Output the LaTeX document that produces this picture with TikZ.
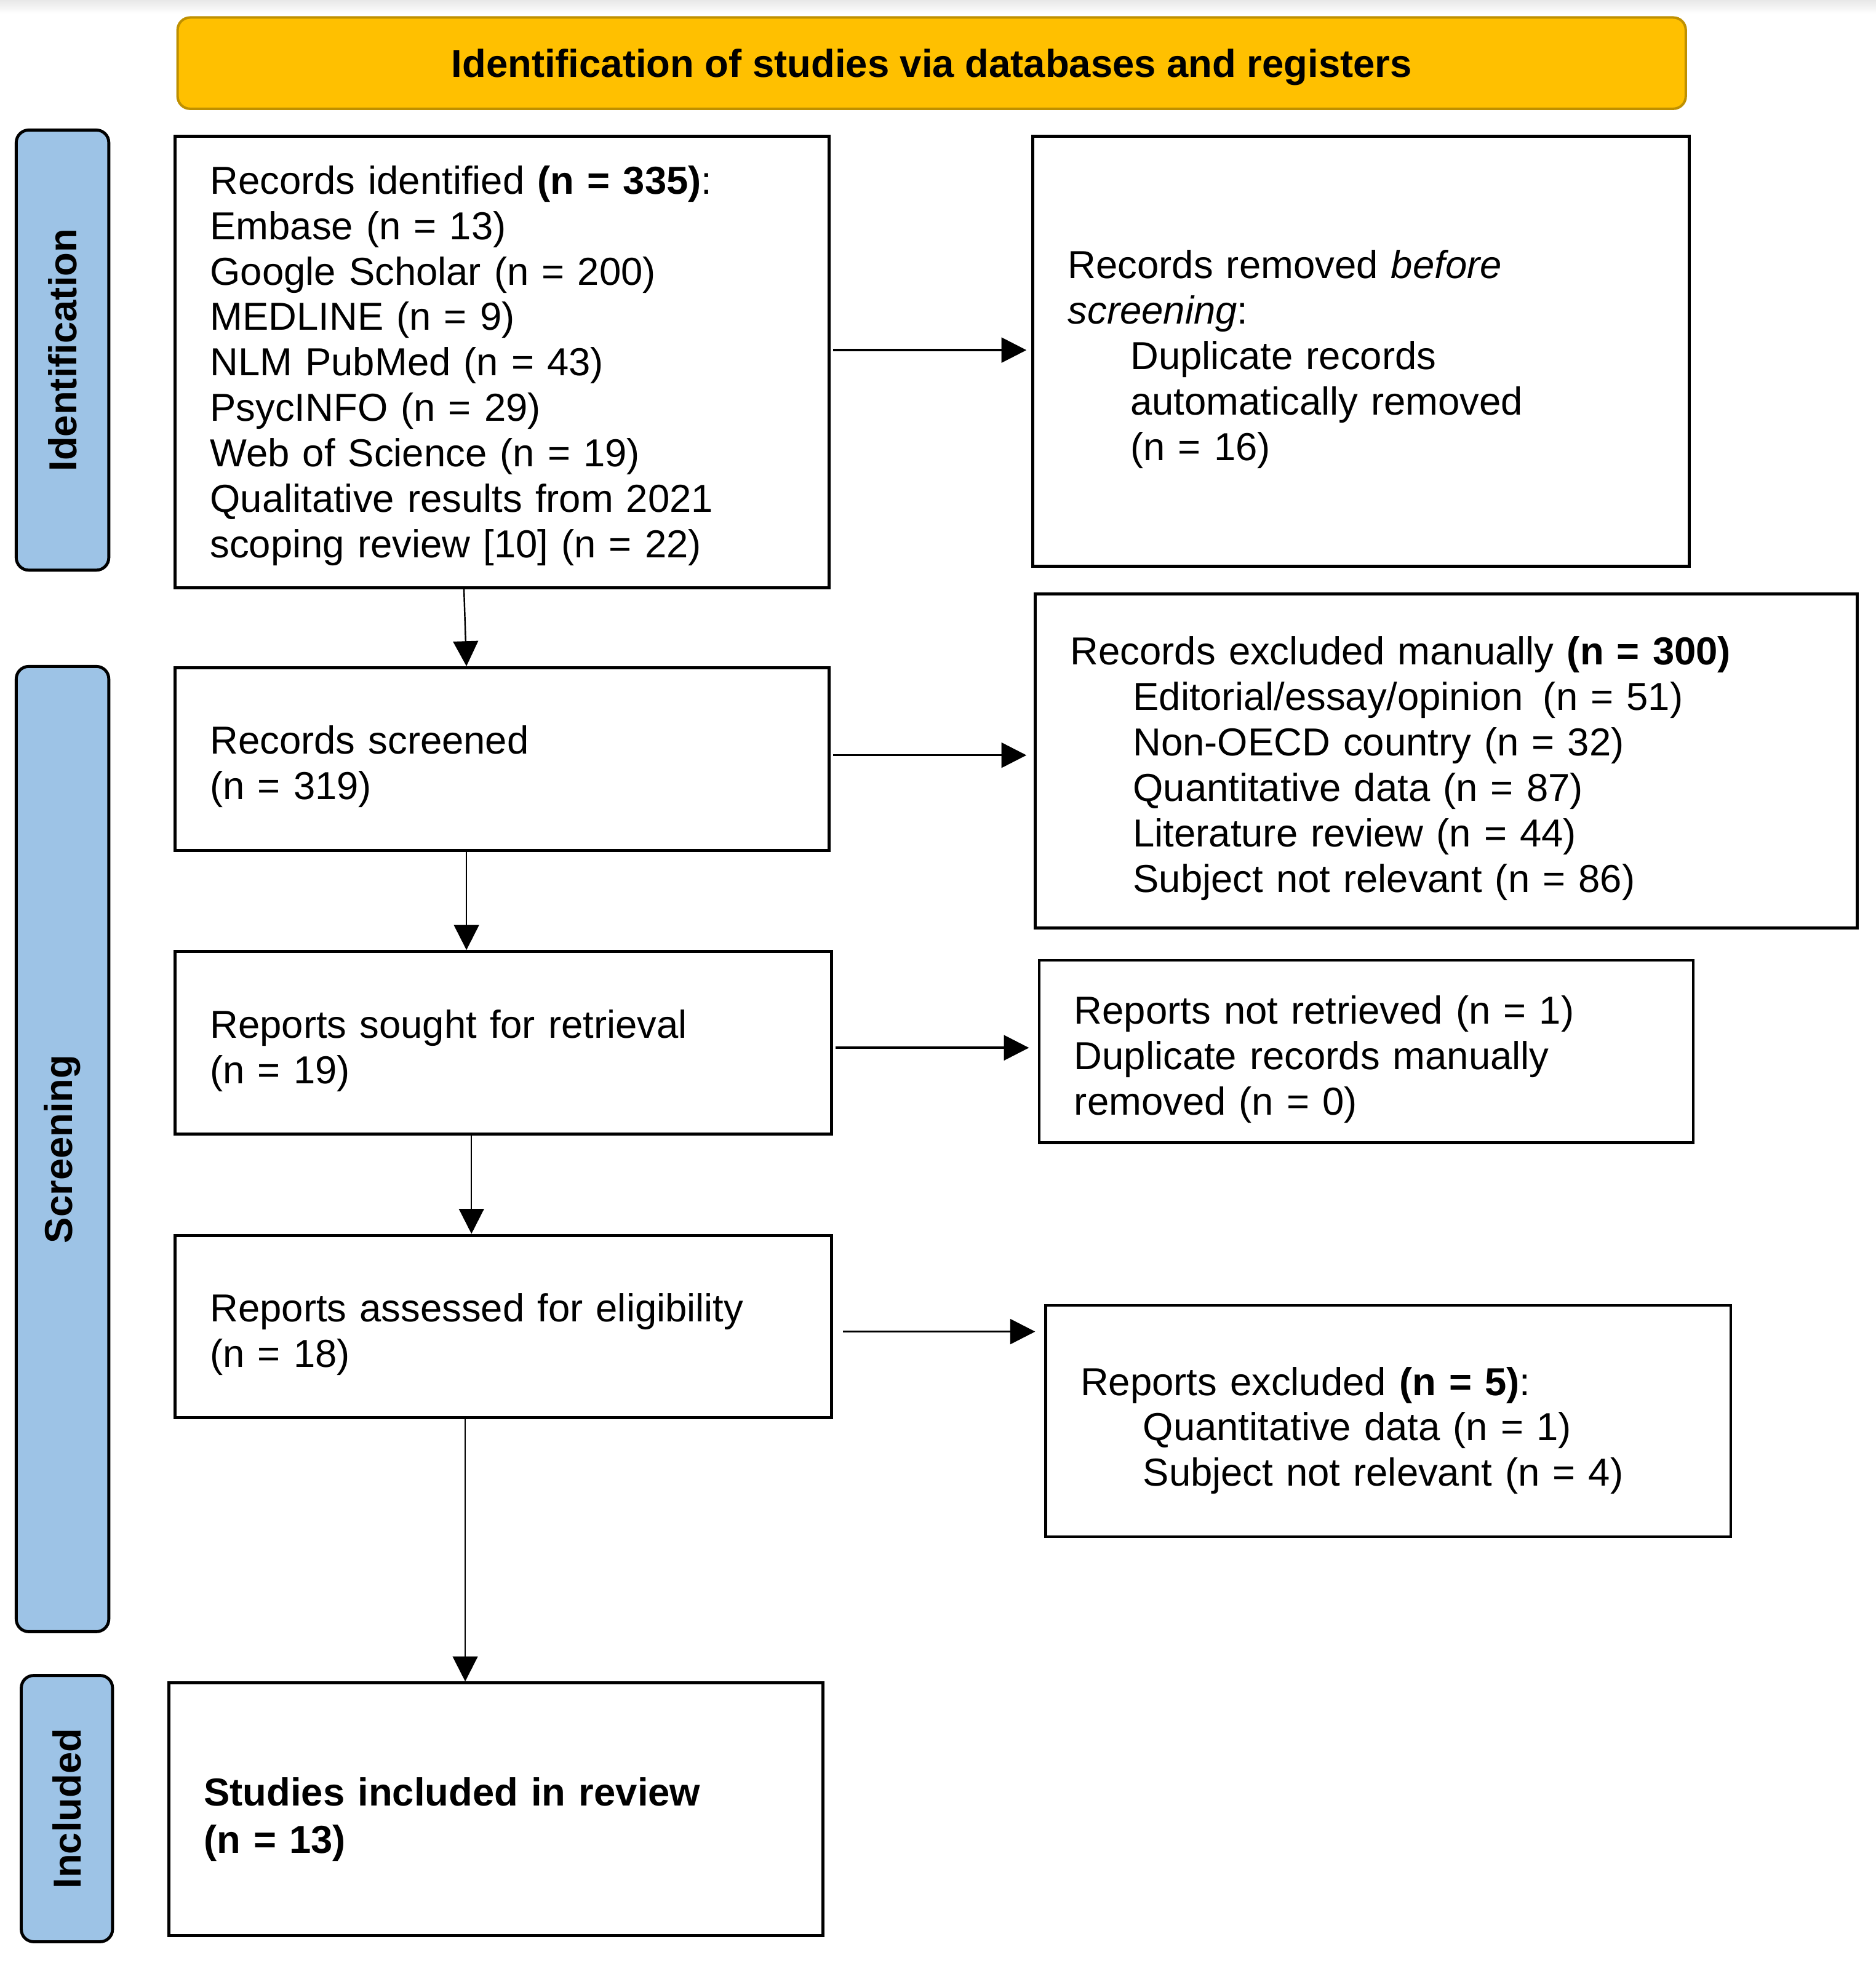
\documentclass[tikz,border=0pt]{standalone}
\usepackage{fontspec}
\setmainfont{Liberation Sans}
\usetikzlibrary{arrows.meta}
\definecolor{hdrfill}{HTML}{FFC000}
\definecolor{hdrline}{HTML}{BF9000}
\definecolor{sidefill}{HTML}{9DC3E6}
\newcommand\fsz{\fontsize{15.6pt}{18.2pt}\selectfont}
\tikzset{
  box/.style={draw, line width=1.2pt, inner xsep=14pt, inner ysep=0pt, align=left, font=\fsz,
    execute at begin node={\rule{0pt}{17.5pt}}},
  hdr/.style={draw=hdrline, fill=hdrfill, line width=1pt, rounded corners=5pt, font=\fsz\bfseries, align=center, inner sep=0pt, text height=14.5pt, text depth=3.3pt},
  side/.style={draw, fill=sidefill, line width=1.2pt, rounded corners=5pt, rotate=90, font=\fsz\bfseries, inner sep=0pt},
  varr/.style={line width=0.6pt, -{Triangle[length=10pt,width=10pt]}},
  harr/.style={line width=0.9pt, -{Triangle[length=10pt,width=10pt]}},
}
\begin{document}
\begin{tikzpicture}[x=0.5pt,y=-0.5pt]
\useasboundingbox (0,0) rectangle (1500,1570);
\shade[top color=gray!18, bottom color=white] (0,0) rectangle (1500,11);

\node[hdr, minimum width=603pt, minimum height=36.5pt] (hdr) at (745,50.5) {Identification of studies via databases and registers};

\node[side, minimum width=176pt, minimum height=37pt] (s1) at (50,280) {Identification};
\node[side, minimum width=386pt, minimum height=37pt] (s2) at (50,919) {Screening};
\node[side, minimum width=106.5pt, minimum height=36.5pt] (s3) at (53.5,1446.5) {Included};

\node[box, minimum width=261.5pt, minimum height=180.5pt, text width=233.5pt] (b1) at (401.5,289.5)
 {Records identified \textbf{(n = 335)}:\\
  Embase (n = 13)\\
  Google Scholar (n = 200)\\
  MEDLINE (n = 9)\\
  NLM PubMed (n = 43)\\
  PsycINFO (n = 29)\\
  Web of Science (n = 19)\\
  Qualitative results from 2021\\
  scoping review [10] (n = 22)\rule[-6.4pt]{0pt}{1pt}};

\node[box, minimum width=262.5pt, minimum height=172pt, text width=234.5pt] (b2) at (1088.5,281)
 {Records removed \textit{before}\\
  \textit{screening}:\\
  \hspace*{25pt}Duplicate records\\
  \hspace*{25pt}automatically removed\\
  \hspace*{25pt}(n = 16)};

\node[box, minimum width=261.5pt, minimum height=73pt, text width=233.5pt] (b3) at (401.5,607)
 {Records screened\\ (n = 319)};

\node[box, minimum width=328.5pt, minimum height=133.5pt, text width=300.5pt] (b4) at (1156.5,608.5)
 {Records excluded manually \textbf{(n = 300)}\\
  \hspace*{25pt}Editorial/essay/opinion \hspace{2.7pt}(n = 51)\\
  \hspace*{25pt}Non-OECD country (n = 32)\\
  \hspace*{25pt}Quantitative data (n = 87)\\
  \hspace*{25pt}Literature review (n = 44)\\
  \hspace*{25pt}Subject not relevant (n = 86)};

\node[box, minimum width=262.5pt, minimum height=73pt, text width=234.5pt] (b5) at (402.5,834)
 {Reports sought for retrieval\\ (n = 19)};

\node[box, minimum width=261.5pt, minimum height=73pt, text width=233.5pt] (b6) at (1092.5,841)
 {Reports not retrieved (n = 1)\\
  Duplicate records manually\\
  removed (n = 0)};

\node[box, minimum width=262.5pt, minimum height=73pt, text width=234.5pt] (b7) at (402.5,1061)
 {Reports assessed for eligibility\\ (n = 18)};

\node[box, minimum width=274pt, minimum height=92.5pt, text width=246pt, execute at begin node={\rule{0pt}{19pt}}] (b8) at (1110,1136.5)
 {Reports excluded \textbf{(n = 5)}:\\
  \hspace*{25pt}Quantitative data (n = 1)\\
  \hspace*{25pt}Subject not relevant (n = 4)};

\node[box, minimum width=261.5pt, minimum height=101pt, text width=233.5pt, font=\fontsize{15.6pt}{19pt}\selectfont\bfseries, execute at begin node={\rule{0pt}{19.5pt}}] (b9) at (396.5,1447)
 {Studies included in review\\ (n = 13)};

\draw[varr] ([xshift=-15.25pt]b1.south) -- ([xshift=-14.25pt]b3.north);
\draw[varr] ([xshift=-14.25pt]b3.south) -- ([xshift=-14.75pt]b5.north);
\draw[varr] ([xshift=-12.75pt]b5.south) -- ([xshift=-12.75pt]b7.north);
\draw[varr] ([xshift=-15.25pt]b7.south) -- ([xshift=-12.25pt]b9.north);

\draw[harr, shorten <=1pt, shorten >=2pt] ([yshift=4.75pt]b1.east) -- ([yshift=0.5pt]b2.west);
\draw[harr, shorten <=1pt, shorten >=3pt] ([yshift=1.5pt]b3.east) -- ([yshift=2.25pt]b4.west);
\draw[harr, shorten <=1pt, shorten >=3.5pt] ([yshift=-2pt]b5.east) -- ([yshift=1.5pt]b6.west);
\draw[harr, shorten <=4pt, shorten >=3.5pt] ([yshift=-2pt]b7.east) -- ([yshift=35.75pt]b8.west);
\end{tikzpicture}
\end{document}
